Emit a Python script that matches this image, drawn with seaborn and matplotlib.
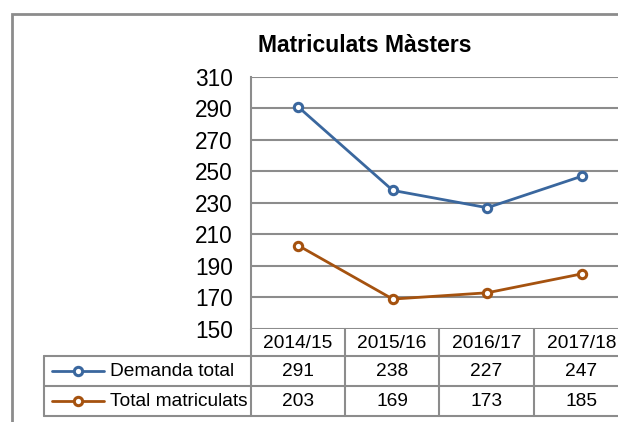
import numpy as np
import pandas as pd
import matplotlib
matplotlib.use('Agg')
import matplotlib.pyplot as plt
import seaborn as sns
from matplotlib.lines import Line2D
from matplotlib.patches import Rectangle

# Data
seasons = ['2014/15', '2015/16', '2016/17', '2017/18']
demanda = [291, 238, 227, 247]
matriculats = [203, 169, 173, 185]
series_names = ['Demanda total', 'Total matriculats']
series_colors = ['#3A679E', '#A5520F']
y_ticks = [150, 170, 190, 210, 230, 250, 270, 290, 310]

W, H = 618, 422

sns.set_style('white')
plt.rcParams['font.family'] = ['Liberation Sans', 'DejaVu Sans']
plt.rcParams['text.color'] = 'black'
plt.rcParams['ytick.color'] = 'black'
plt.rcParams['ytick.labelcolor'] = 'black'

fig = plt.figure(figsize=(W / 100, H / 100), dpi=100)


def fx(px):
    return px / W


def fy(py):
    return 1 - py / H


# plot area in pixels
left, right, top, bottom = 251, 629, 77, 329
ax = fig.add_axes([fx(left), fy(bottom), fx(right - left), fy(top) - fy(bottom)])

for vals, name, c in zip([demanda, matriculats], series_names, series_colors):
    sns.lineplot(x=seasons, y=vals, ax=ax, color=c, linewidth=2, marker='o',
                 markersize=6, markerfacecolor='white', markeredgecolor=c,
                 markeredgewidth=2.2, zorder=3)

ax.set_xlim(-0.5, 3.5)
ax.set_ylim(150, 310)
ax.set_yticks(y_ticks)
ax.set_yticklabels([str(t) for t in y_ticks], fontsize=16.3, color='black')
ax.set_xticks([])
ax.tick_params(axis='y', length=0, pad=13)
ax.grid(axis='y', color='#8c8c8c', linewidth=1.5)
ax.set_axisbelow(True)
for s in ['top', 'right', 'bottom']:
    ax.spines[s].set_visible(False)
ax.spines['left'].set_color('#8c8c8c')
ax.spines['left'].set_linewidth(1.5)

# outer chart border
fig.add_artist(Rectangle((fx(12), fy(440)), fx(640), fy(14) - fy(440),
                         fill=False, edgecolor='#8c8c8c', linewidth=2))

fig.text(fx(365), fy(46), 'Matriculats Màsters', ha='center', va='center',
         fontsize=16.5, fontweight='bold', color='black')

# data table
gray = '#8c8c8c'
col_edges = [251, 345, 439, 534, 629]
row_edges = [329, 356, 386, 416]


def hline(x0, x1, y):
    fig.add_artist(Line2D([fx(x0), fx(x1)], [fy(y), fy(y)], color=gray, linewidth=1.5))


def vline(x, y0, y1):
    fig.add_artist(Line2D([fx(x), fx(x)], [fy(y0), fy(y1)], color=gray, linewidth=1.5))


hline(44, 629, 356)
hline(44, 629, 386)
hline(44, 629, 416)
for x in col_edges:
    vline(x, 329, 416)
vline(44, 356, 416)

for i, s in enumerate(seasons):
    cx = (col_edges[i] + col_edges[i + 1]) / 2
    fig.text(fx(cx), fy(343), s, ha='center', va='center', fontsize=13.8, color='black')

for r, (vals, name, c) in enumerate(zip([demanda, matriculats], series_names, series_colors)):
    cy = (row_edges[r + 1] + row_edges[r + 2]) / 2
    for i, v in enumerate(vals):
        cx = (col_edges[i] + col_edges[i + 1]) / 2
        fig.text(fx(cx), fy(cy), str(v), ha='center', va='center', fontsize=13.8, color='black')
    fig.add_artist(Line2D([fx(52), fx(104)], [fy(cy), fy(cy)], color=c, linewidth=2))
    fig.add_artist(Line2D([fx(78)], [fy(cy)], color=c, marker='o', markersize=6,
                          markerfacecolor='white', markeredgecolor=c, markeredgewidth=2.2))
    fig.text(fx(110), fy(cy), name, ha='left', va='center', fontsize=13.8, color='black')

fig.savefig('out.png', dpi=100)
